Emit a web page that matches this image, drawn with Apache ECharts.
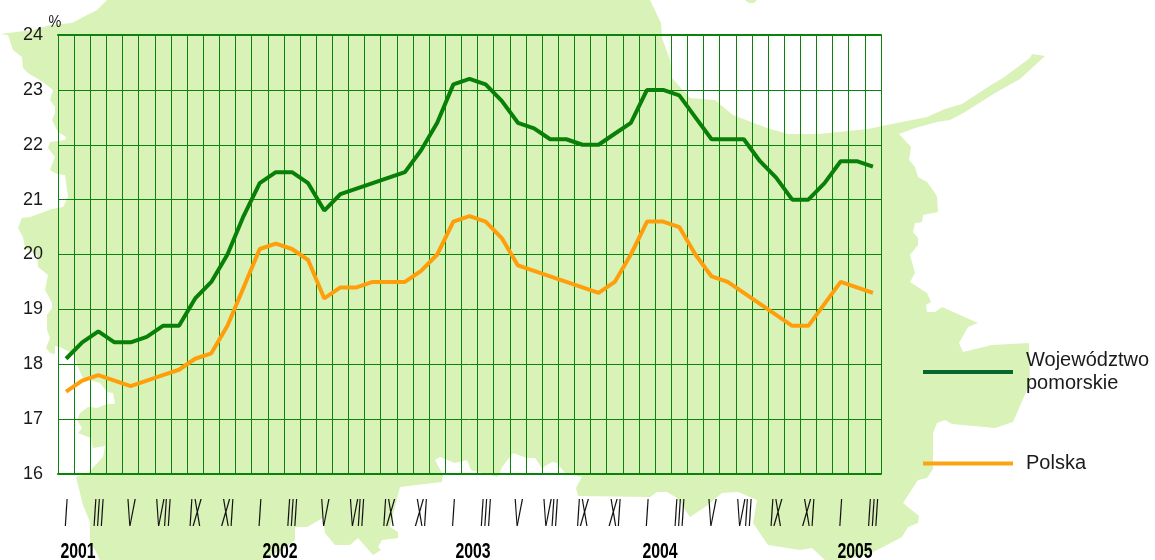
<!DOCTYPE html>
<html><head><meta charset="utf-8">
<style>html,body{margin:0;padding:0;background:#fff}#c{width:1155px;height:560px}</style>
<script src="https://cdn.jsdelivr.net/npm/echarts@6/dist/echarts.min.js"></script>
</head><body><div id="c"></div>
<script>
const months = ['I','II','III','IV','V','VI','VII','VIII','IX','X','XI','XII'];
const years = ['2001','2002','2003','2004','2005'];
const yearX = [78,280,473,660,855];
const categories = [];
for (let i = 0; i < 51; i++) categories.push(months[i % 12]);
const pomorskie = [18.1,18.4,18.6,18.4,18.4,18.5,18.7,18.7,19.2,19.5,20.0,20.7,21.3,21.5,21.5,21.3,20.8,21.1,21.2,21.3,21.4,21.5,21.9,22.4,23.1,23.2,23.1,22.8,22.4,22.3,22.1,22.1,22.0,22.0,22.2,22.4,23.0,23.0,22.9,22.5,22.1,22.1,22.1,21.7,21.4,21.0,21.0,21.3,21.7,21.7,21.6];
const polska = [17.5,17.7,17.8,17.7,17.6,17.7,17.8,17.9,18.1,18.2,18.7,19.4,20.1,20.2,20.1,19.9,19.2,19.4,19.4,19.5,19.5,19.5,19.7,20.0,20.6,20.7,20.6,20.3,19.8,19.7,19.6,19.5,19.4,19.3,19.5,20.0,20.6,20.6,20.5,20.0,19.6,19.5,19.3,19.1,18.9,18.7,18.7,19.1,19.5,19.4,19.3];
const mapOutline = [[107,0],[97,10],[87,15],[72,23],[50,25],[33,30],[0,34],[8,35],[13,50],[22,57],[23,68],[28,73],[43,82],[53,90],[50,100],[55,107],[55,113],[52,120],[58,132],[66,137],[65,140],[50,142],[48,148],[55,157],[50,170],[57,174],[65,175],[68,197],[63,207],[52,209],[30,217],[22,218],[18,228],[23,237],[25,248],[37,255],[38,267],[48,275],[47,280],[45,290],[52,303],[52,308],[47,315],[47,330],[50,338],[46,348],[50,353],[55,354],[55,346],[60,347],[75,355],[77,365],[83,378],[100,383],[107,392],[113,393],[115,404],[107,404],[97,408],[88,407],[80,413],[77,420],[82,428],[78,433],[91,438],[93,448],[105,446],[103,457],[88,473],[76,477],[78,485],[83,505],[90,522],[90,542],[95,550],[100,560],[262,560],[285,548],[295,540],[295,527],[307,527],[323,518],[325,533],[335,545],[350,545],[358,538],[373,555],[381,550],[378,547],[382,540],[398,538],[398,532],[390,527],[400,487],[442,482],[443,475],[435,460],[440,457],[455,463],[467,460],[471,470],[498,477],[502,467],[513,453],[527,458],[535,458],[542,468],[552,462],[557,463],[565,473],[582,477],[576,488],[578,496],[650,497],[657,492],[667,492],[677,498],[690,517],[705,507],[722,493],[738,492],[757,500],[753,523],[768,545],[800,550],[812,548],[825,560],[845,560],[873,552],[883,547],[902,537],[908,527],[918,523],[919,516],[903,503],[918,480],[927,478],[933,469],[933,433],[937,423],[945,420],[952,424],[995,428],[1013,422],[1030,383],[1029,343],[992,345],[963,352],[959,343],[968,327],[978,323],[942,307],[935,312],[927,312],[926,305],[931,302],[927,293],[910,282],[915,273],[910,255],[918,245],[918,238],[913,232],[915,223],[922,222],[923,215],[938,212],[937,197],[935,193],[927,182],[918,177],[915,167],[909,160],[911,147],[899,134],[915,128],[937,122],[950,120],[965,112],[995,93],[1020,79],[1045,56],[1032,54],[1030,58],[1003,78],[991,85],[962,104],[945,109],[927,117],[882,126],[868,129],[818,134],[788,134],[767,128],[733,115],[722,106],[715,100],[690,98],[672,78],[670,60],[662,38],[661,23],[650,0]];
const island = [[745,0],[757,0],[754,3],[749,3]];

const landColor = '#d9f2b7', gridColor = '#0b820b', textColor = '#1a1a1a';
const monthLabels = categories.map((m, i) => [i, 16, m]).filter(d => (d[0] % 2) === 0);

const chart = echarts.init(document.getElementById('c'), null, {renderer:'canvas'});
chart.setOption({
  animation:false,
  backgroundColor:'#fff',
  textStyle:{fontFamily:'Liberation Sans'},
  grid:{left:58,right:274,top:35,height:439,containLabel:false},
  graphic:[
    {type:'polygon',z:-10,silent:true,shape:{points:mapOutline},style:{fill:landColor}},
    {type:'polygon',z:-10,silent:true,shape:{points:island},style:{fill:landColor}},
    {type:'text',z:5,x:55,y:22,scaleX:0.85,silent:true,
     style:{text:'%',align:'center',verticalAlign:'middle',fontFamily:'Liberation Sans',fontSize:17,fill:textColor}}
  ].concat(years.map((y,i)=>({type:'text',z:5,x:yearX[i],y:552,scaleX:0.72,silent:true,
    style:{text:y,align:'center',verticalAlign:'middle',fontFamily:'Liberation Sans',fontWeight:'bold',fontSize:22,fill:'#000'}}))),
  legend:{
    orient:'vertical',left:918,top:344,itemWidth:90,itemHeight:4,itemGap:57,icon:'rect',
    selectedMode:false,
    data:[
      {name:'Województwo pomorskie',itemStyle:{color:'#06672f'}},
      {name:'Polska',itemStyle:{color:'#fba313'}}
    ],
    formatter:n=>n.replace(' pomorskie','\npomorskie'),
    textStyle:{fontFamily:'Liberation Sans',fontSize:20,lineHeight:23,color:textColor,padding:[0,0,0,8]}
  },
  xAxis:[
    {type:'category',data:categories,position:'bottom',boundaryGap:true,
     axisLine:{show:true,onZero:false,lineStyle:{color:gridColor,width:2}},axisTick:{show:false},axisLabel:{show:false},
     splitLine:{show:true,interval:0,showMinLine:true,showMaxLine:true,lineStyle:{color:gridColor,width:1}}},
    {type:'category',data:categories,position:'top',boundaryGap:true,
     axisLine:{show:true,onZero:false,lineStyle:{color:gridColor,width:2}},axisTick:{show:false},axisLabel:{show:false},splitLine:{show:false}}
  ],
  yAxis:{type:'value',min:16,max:24,interval:1,
    axisLine:{show:true,lineStyle:{color:gridColor,width:1}},axisTick:{show:false},
    axisLabel:{margin:15,fontSize:18,color:textColor,fontFamily:'Liberation Sans',padding:[0,0,4,0]},
    splitLine:{show:true,lineStyle:{color:gridColor,width:1}}},
  series:[
    {name:'Województwo pomorskie',type:'line',data:pomorskie,showSymbol:false,smooth:false,z:3,
     itemStyle:{color:'#088008'},lineStyle:{color:'#088008',width:4,join:'bevel'}},
    {name:'Polska',type:'line',data:polska,showSymbol:false,smooth:false,z:4,
     itemStyle:{color:'#ff9e0b'},lineStyle:{color:'#ff9e0b',width:4,join:'bevel'}},
    {type:'custom',data:monthLabels,clip:false,silent:true,z:5,encode:{x:0,y:1},
     renderItem(params,api){
       const p=api.coord([api.value(0),api.value(1)]);
       return {type:'text',x:p[0],y:p[1]+41,scaleX:0.33,
         style:{text:monthLabels[params.dataIndex][2],align:'center',verticalAlign:'middle',
           fontFamily:'Liberation Sans',fontStyle:'italic',fontSize:39,fill:'#111'}};
     }}
  ]
});
</script></body></html>
